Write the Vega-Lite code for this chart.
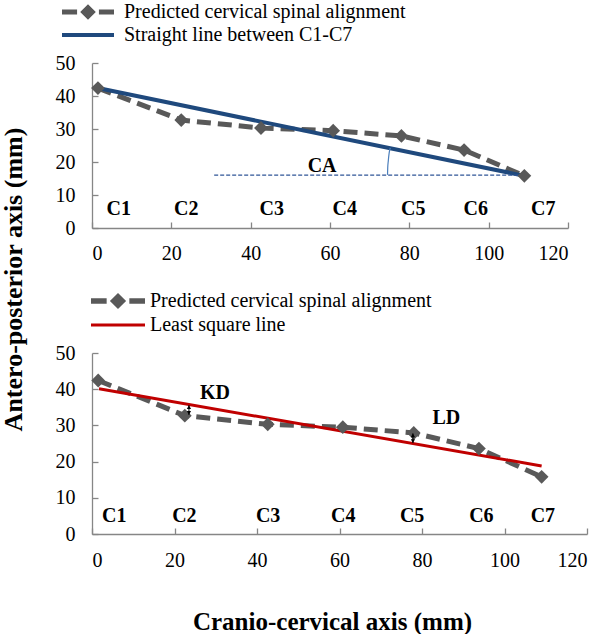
{
  "$schema": "https://vega.github.io/schema/vega-lite/v6.json",
  "padding": {"left": 0, "top": 2, "right": 2, "bottom": 0},
  "background": "white",
  "config": {
    "view": {"stroke": null},
    "font": "Liberation Serif",
    "style": {"guide-label": {"font": "Liberation Serif", "fontSize": 20, "fill": "#000000"}, "guide-title": {"font": "Liberation Serif"}},
    "axis": {"labelFont": "Liberation Serif", "labelFontSize": 20, "labelColor": "#000000", "labelOverlap": false, "labelSeparation": -40, "domainColor": "#868686", "tickColor": "#868686", "domainWidth": 1.3, "tickWidth": 1.3, "grid": false, "titleFont": "Liberation Serif", "titleFontWeight": "bold", "titleColor": "#000000"},
    "legend": {"labelFont": "Liberation Serif", "labelFontSize": 20, "labelColor": "#000000", "labelLimit": 400, "padding": 0}
  },
  "datasets": {
    "pred": [
      {"series": "Predicted cervical spinal alignment", "x": 1.5, "y": 42.4},
      {"series": "Predicted cervical spinal alignment", "x": 22.5, "y": 32.7},
      {"series": "Predicted cervical spinal alignment", "x": 42.6, "y": 30.3},
      {"series": "Predicted cervical spinal alignment", "x": 60.8, "y": 29.5},
      {"series": "Predicted cervical spinal alignment", "x": 78, "y": 27.9},
      {"series": "Predicted cervical spinal alignment", "x": 93.8, "y": 23.6},
      {"series": "Predicted cervical spinal alignment", "x": 109, "y": 15.8}
    ],
    "straight": [
      {"series": "Straight line between C1-C7", "x": 1.5, "y": 42.4},
      {"series": "Straight line between C1-C7", "x": 109, "y": 15.8}
    ],
    "lsq": [
      {"series": "Least square line", "x": 1.7, "y": 40.1},
      {"series": "Least square line", "x": 109, "y": 18.8}
    ],
    "caline": [{"x": 30.8, "y": 16}, {"x": 108, "y": 16}],
    "arc": [
      {"x": 74.5, "y": 16.1},
      {"x": 74.55, "y": 18.2},
      {"x": 74.7, "y": 20.4},
      {"x": 74.9, "y": 22.6},
      {"x": 75.2, "y": 24.3}
    ],
    "toplabels": [
      {"label": "C1", "x": 6.75, "y": 5.8},
      {"label": "C2", "x": 23.75, "y": 5.8},
      {"label": "C3", "x": 45.3, "y": 5.8},
      {"label": "C4", "x": 63.7, "y": 5.8},
      {"label": "C5", "x": 81, "y": 5.8},
      {"label": "C6", "x": 96.75, "y": 5.8},
      {"label": "C7", "x": 113.75, "y": 5.8},
      {"label": "CA", "x": 58, "y": 18.8}
    ],
    "botlabels": [
      {"label": "C1", "x": 5.4, "y": 5.0},
      {"label": "C2", "x": 22.4, "y": 5.0},
      {"label": "C3", "x": 42.7, "y": 5.0},
      {"label": "C4", "x": 60.9, "y": 5.0},
      {"label": "C5", "x": 77.6, "y": 5.0},
      {"label": "C6", "x": 94.4, "y": 5.0},
      {"label": "C7", "x": 109.3, "y": 5.0},
      {"label": "KD", "x": 29.8, "y": 39},
      {"label": "LD", "x": 85.9, "y": 32}
    ],
    "arrows": [
      {"name": "KD", "x": 23.5, "y": 32.9, "y2": 35.6},
      {"name": "LD", "x": 77.8, "y": 25.1, "y2": 27.8}
    ]
  },
  "bounds": "flush",
  "spacing": 125,
  "resolve": {"scale": {"color": "independent", "x": "independent", "y": "independent"}, "legend": {"color": "independent"}},
  "vconcat": [
    {
      "width": 476,
      "height": 165,
      "layer": [
        {
          "data": {"name": "pred"},
          "mark": {"type": "line", "strokeDash": [14, 7], "strokeWidth": 5},
          "encoding": {
            "x": {"field": "x", "type": "quantitative", "scale": {"domain": [0, 120], "nice": false},
              "axis": {"values": [0, 20, 40, 60, 80, 100, 120], "title": null, "tickSize": -6, "labelPadding": 21, "labelFont": "Liberation Serif", "labelFontSize": 20, "labelOverlap": false}},
            "y": {"field": "y", "type": "quantitative", "scale": {"domain": [0, 50], "nice": false},
              "axis": {"values": [0, 10, 20, 30, 40, 50], "tickCount": 6, "title": "Antero-posterior axis (mm)", "titleFont": "Liberation Serif", "titleFontSize": 26, "titleX": -71, "titleY": 216, "titleAngle": -90, "titleBaseline": "alphabetic", "titleAlign": "center", "tickSize": -6, "labelPadding": 23, "labelFont": "Liberation Serif", "labelFontSize": 20, "labelOverlap": false, "labelSeparation": -40}},
            "color": {"field": "series", "type": "nominal",
              "scale": {"domain": ["Predicted cervical spinal alignment", "Straight line between C1-C7"], "range": ["#595959", "#1F497D"]},
              "legend": {"title": null, "orient": "none", "legendX": -30, "legendY": -61, "clipHeight": 20, "rowPadding": 3, "symbolSize": 2704, "symbolStrokeWidth": 0, "labelOffset": 10, "labelFont": "Liberation Serif", "labelFontSize": 20, "labelLimit": 400,
                "encode": {
                  "symbols": {"update": {
                  "shape": {"signal": "datum.value === 'Predicted cervical spinal alignment' ? 'M-1,-0.1L-0.42,-0.1L-0.42,0.1L-1,0.1Z M0,-0.3L0.3,0L0,0.3L-0.3,0Z M0.42,-0.1L1,-0.1L1,0.1L0.42,0.1Z' : 'M-1,-0.08L1,-0.08L1,0.08L-1,0.08Z'"},
                  "fill": {"signal": "datum.value === 'Predicted cervical spinal alignment' ? '#595959' : '#1F497D'"},
                  "stroke": {"value": "transparent"},
                  "opacity": {"value": 1}
                }}}}}
          }
        },
        {
          "data": {"name": "straight"},
          "mark": {"type": "line", "strokeWidth": 4},
          "encoding": {
            "x": {"field": "x", "type": "quantitative"},
            "y": {"field": "y", "type": "quantitative"},
            "color": {"field": "series", "type": "nominal"}
          }
        },
        {
          "data": {"name": "caline"},
          "mark": {"type": "line", "strokeDash": [4, 2], "strokeWidth": 1.3, "color": "#2F5597"},
          "encoding": {"x": {"field": "x", "type": "quantitative"}, "y": {"field": "y", "type": "quantitative"}}
        },
        {
          "data": {"name": "arc"},
          "mark": {"type": "line", "strokeWidth": 1.2, "color": "#4A7EBB", "interpolate": "monotone"},
          "encoding": {"x": {"field": "x", "type": "quantitative"}, "y": {"field": "y", "type": "quantitative"}}
        },
        {
          "data": {"name": "pred"},
          "mark": {"type": "point", "shape": "diamond", "filled": true, "size": 190, "color": "#595959", "opacity": 1},
          "encoding": {"x": {"field": "x", "type": "quantitative"}, "y": {"field": "y", "type": "quantitative"}}
        },
        {
          "data": {"name": "toplabels"},
          "mark": {"type": "text", "font": "Liberation Serif", "fontWeight": "bold", "fontSize": 20, "color": "#000000", "align": "center", "baseline": "middle"},
          "encoding": {"x": {"field": "x", "type": "quantitative"}, "y": {"field": "y", "type": "quantitative"}, "text": {"field": "label"}}
        }
      ]
    },
    {
      "width": 495,
      "height": 181,
      "layer": [
        {
          "data": {"name": "pred"},
          "mark": {"type": "line", "strokeDash": [14, 7], "strokeWidth": 5},
          "encoding": {
            "x": {"field": "x", "type": "quantitative", "scale": {"domain": [0, 120], "nice": false},
              "axis": {"values": [0, 20, 40, 60, 80, 100, 120], "title": "Cranio-cervical axis (mm)", "titleFont": "Liberation Serif", "titleFontSize": 25, "titleX": 240, "titleY": 95, "titleBaseline": "alphabetic", "titleAlign": "center", "tickSize": -6, "labelPadding": 22, "labelFont": "Liberation Serif", "labelFontSize": 20, "labelOverlap": false}},
            "y": {"field": "y", "type": "quantitative", "scale": {"domain": [0, 50], "nice": false},
              "axis": {"values": [0, 10, 20, 30, 40, 50], "tickCount": 6, "title": null, "tickSize": -6, "labelPadding": 23, "labelFont": "Liberation Serif", "labelFontSize": 20, "labelOverlap": false, "labelSeparation": -40}},
            "color": {"field": "series", "type": "nominal",
              "scale": {"domain": ["Predicted cervical spinal alignment", "Least square line"], "range": ["#595959", "#C00000"]},
              "legend": {"title": null, "orient": "none", "legendX": -1, "legendY": -62, "clipHeight": 20, "rowPadding": 4, "symbolSize": 2916, "symbolStrokeWidth": 0, "labelOffset": 5, "labelFont": "Liberation Serif", "labelFontSize": 20, "labelLimit": 400,
                "encode": {
                  "symbols": {"update": {
                  "shape": {"signal": "datum.value === 'Predicted cervical spinal alignment' ? 'M-1,-0.1L-0.42,-0.1L-0.42,0.1L-1,0.1Z M0,-0.3L0.3,0L0,0.3L-0.3,0Z M0.42,-0.1L1,-0.1L1,0.1L0.42,0.1Z' : 'M-1,-0.06L1,-0.06L1,0.06L-1,0.06Z'"},
                  "fill": {"signal": "datum.value === 'Predicted cervical spinal alignment' ? '#595959' : '#C00000'"},
                  "stroke": {"value": "transparent"},
                  "opacity": {"value": 1}
                }}}}}
          }
        },
        {
          "data": {"name": "lsq"},
          "mark": {"type": "line", "strokeWidth": 3},
          "encoding": {
            "x": {"field": "x", "type": "quantitative"},
            "y": {"field": "y", "type": "quantitative"},
            "color": {"field": "series", "type": "nominal"}
          }
        },
        {
          "data": {"name": "pred"},
          "mark": {"type": "point", "shape": "diamond", "filled": true, "size": 190, "color": "#595959", "opacity": 1},
          "encoding": {"x": {"field": "x", "type": "quantitative"}, "y": {"field": "y", "type": "quantitative"}}
        },
        {
          "data": {"name": "arrows"},
          "mark": {"type": "rule", "color": "#000000", "strokeWidth": 1},
          "encoding": {"x": {"field": "x", "type": "quantitative"}, "y": {"field": "y", "type": "quantitative"}, "y2": {"field": "y2"}}
        },
        {
          "data": {"name": "arrows"},
          "mark": {"type": "point", "shape": "triangle-up", "filled": true, "size": 18, "color": "#000000", "opacity": 1, "yOffset": 2},
          "encoding": {"x": {"field": "x", "type": "quantitative"}, "y": {"field": "y2", "type": "quantitative"}}
        },
        {
          "data": {"name": "arrows"},
          "mark": {"type": "point", "shape": "triangle-down", "filled": true, "size": 18, "color": "#000000", "opacity": 1, "yOffset": -2},
          "encoding": {"x": {"field": "x", "type": "quantitative"}, "y": {"field": "y", "type": "quantitative"}}
        },
        {
          "data": {"name": "botlabels"},
          "mark": {"type": "text", "font": "Liberation Serif", "fontWeight": "bold", "fontSize": 20, "color": "#000000", "align": "center", "baseline": "middle"},
          "encoding": {"x": {"field": "x", "type": "quantitative"}, "y": {"field": "y", "type": "quantitative"}, "text": {"field": "label"}}
        }
      ]
    }
  ]
}
